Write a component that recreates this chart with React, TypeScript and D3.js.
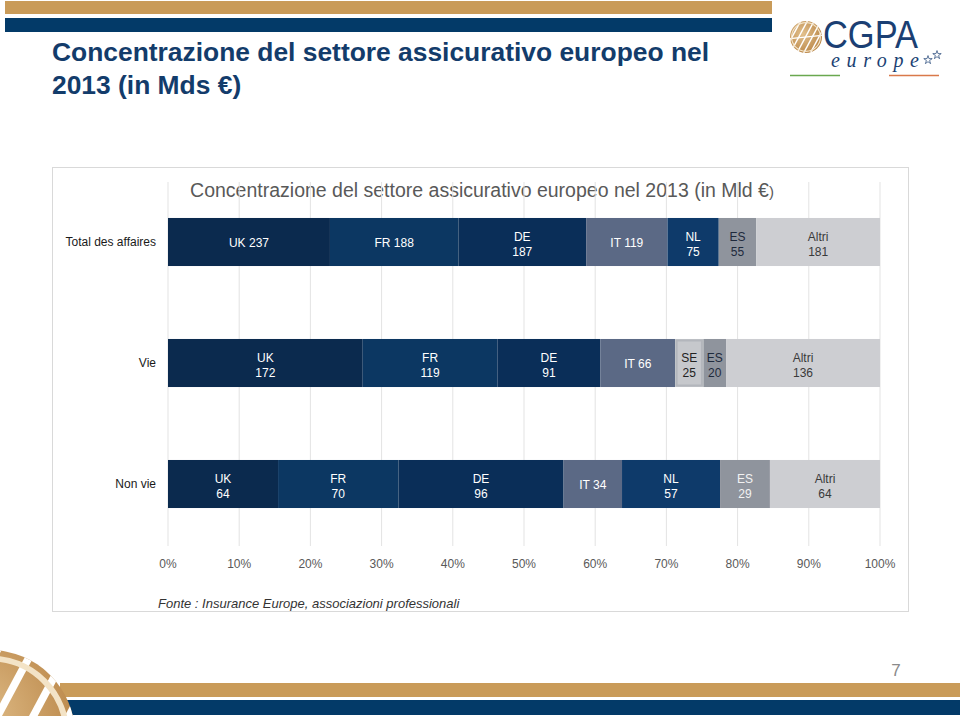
import React from "react";
import * as d3 from "d3";

const rowNames = ["Total des affaires", "Vie", "Non vie"];

const totalLabels = ["UK", "FR", "DE", "IT", "NL", "ES", "Altri"];
const totalValues = [237, 188, 187, 119, 75, 55, 181];

const vieLabels = ["UK", "FR", "DE", "IT", "SE", "ES", "Altri"];
const vieValues = [172, 119, 91, 66, 25, 20, 136];

const nonVieLabels = ["UK", "FR", "DE", "IT", "NL", "ES", "Altri"];
const nonVieValues = [64, 70, 96, 34, 57, 29, 64];

// which segment labels are on one line
const totalInline = [true, true, false, true, false, false, false];
const vieInline = [false, false, false, true, false, false, false];
const nonVieInline = [false, false, false, true, false, false, false];

const tickValues = [0, 0.1, 0.2, 0.3, 0.4, 0.5, 0.6, 0.7, 0.8, 0.9, 1];

const chartTitle = "Concentrazione del settore assicurativo europeo nel 2013 (in Mld €";
const pageTitle1 = "Concentrazione del settore assicurativo europeo nel";
const pageTitle2 = "2013 (in Mds €)";
const sourceNote = "Fonte : Insurance Europe, associazioni professionali";

const fills: Record<string, string> = {
  UK: "#0b2a4e",
  FR: "#0c3762",
  DE: "#0a2e58",
  IT: "#5b6985",
  NL: "#0e3a6a",
  SE: "#c6c8cc",
  ES: "#8f949d",
  Altri: "#cdced2",
};

const FONT = "'Liberation Sans', Arial, sans-serif";

type Row = { name: string; labels: string[]; values: number[]; inline: boolean[]; darkES: boolean };

const rows: Row[] = [
  { name: rowNames[0], labels: totalLabels, values: totalValues, inline: totalInline, darkES: true },
  { name: rowNames[1], labels: vieLabels, values: vieValues, inline: vieInline, darkES: true },
  { name: rowNames[2], labels: nonVieLabels, values: nonVieValues, inline: nonVieInline, darkES: false },
];

function Globe({ cx, cy, r, id }: { cx: number; cy: number; r: number; id: string }) {
  const stripes = d3.range(-4, 5).map((i) => i * r * 0.42);
  return (
    <g>
      <defs>
        <clipPath id={id}>
          <circle cx={cx} cy={cy} r={r} />
        </clipPath>
        <radialGradient id={id + "g"} cx="40%" cy="40%" r="70%">
          <stop offset="0%" stopColor="#e2c08c" />
          <stop offset="100%" stopColor="#b78243" />
        </radialGradient>
      </defs>
      <circle cx={cx} cy={cy} r={r} fill={`url(#${id}g)`} />
      <g clipPath={`url(#${id})`} stroke="#fff" strokeWidth={r * 0.09}>
        {stripes.map((s, i) => (
          <line key={i} x1={cx - r * 1.2 + s} y1={cy + r * 1.4} x2={cx + r * 0.3 + s} y2={cy - r * 1.4} />
        ))}
        <line x1={cx - r} y1={cy + r * 0.1} x2={cx + r} y2={cy - r * 0.1} />
        <circle cx={cx} cy={cy} r={r * 0.9} fill="none" stroke="#f3e3c6" strokeWidth={r * 0.07} />
      </g>
    </g>
  );
}

export default function App() {
  const x = d3.scaleLinear().domain([0, 1]).range([168, 880]);
  const y = d3
    .scaleBand<string>()
    .domain(rowNames)
    .range([181.5, 544.5])
    .paddingInner(0.603)
    .paddingOuter(0.3015);
  const bw = y.bandwidth();

  const star = d3.symbol().type(d3.symbolStar).size(22)();

  return (
    <svg width={960} height={716} style={{ position: "absolute", left: 0, top: 0 }} fontFamily={FONT}>
      <rect width={960} height={716} fill="#fff" />
      {/* top bands */}
      <rect x={5} y={1} width={767} height={13} fill="#c99b59" />
      <rect x={5} y={18} width={767} height={14} fill="#033a68" />

      {/* page title */}
      <text x={52} y={61} fontSize={26.4} fontWeight="bold" fill="#133c6b">
        {pageTitle1}
      </text>
      <text x={52} y={94} fontSize={26.4} fontWeight="bold" fill="#133c6b">
        {pageTitle2}
      </text>

      {/* logo */}
      <Globe cx={806} cy={37} r={16} id="glb1" />
      <text x={823} y={48} fontSize={38} fill="#1b3f73" textLength={95} lengthAdjust="spacingAndGlyphs">
        CGPA
      </text>
      <text
        x={831}
        y={67}
        fontSize={20}
        fontStyle="italic"
        fontFamily="'Liberation Serif', 'DejaVu Serif', serif"
        fill="#1b3f73"
        textLength={88}
        lengthAdjust="spacing"
      >
        europe
      </text>
      <path d={star} transform="translate(928,60)" fill="none" stroke="#1b3f73" strokeWidth={0.7} />
      <path d={star} transform="translate(937,55)" fill="none" stroke="#1b3f73" strokeWidth={0.7} />
      <line x1={790} x2={840} y1={75.5} y2={75.5} stroke="#6aa84f" strokeWidth={1.5} />
      <line x1={889} x2={939} y1={75.5} y2={75.5} stroke="#d9794a" strokeWidth={1.5} />

      {/* chart panel */}
      <rect x={52.5} y={167.5} width={856} height={444} fill="#fff" stroke="#d9d9d9" strokeWidth={1} />
      <text x={482} y={197} fontSize={19.5} fill="#595959" textAnchor="middle">
        {chartTitle}
        <tspan fontSize={15}>)</tspan>
      </text>

      {/* gridlines */}
      {tickValues.map((t) => (
        <line key={t} x1={x(t)} x2={x(t)} y1={182} y2={546} stroke="#e3e3e3" strokeWidth={1} />
      ))}

      {/* bars */}
      {rows.map((row) => {
        const total = d3.sum(row.values);
        const cum = [0, ...d3.cumsum(row.values)];
        const y0 = y(row.name) as number;
        const cy = y0 + bw / 2;
        return (
          <g key={row.name}>
            <text x={156} y={cy + 4} fontSize={12} fill="#1a1a1a" textAnchor="end">
              {row.name}
            </text>
            {row.values.map((v, i) => {
              const lab = row.labels[i];
              const xa = x(cum[i] / total);
              const xb = x(cum[i + 1] / total);
              const mid = (xa + xb) / 2;
              let tc = "#ffffff";
              if (lab === "Altri") tc = "#3a3a3a";
              if (lab === "SE") tc = "#222";
              if (lab === "ES") tc = row.darkES ? "#1e2a3c" : "#f2f2f2";
              return (
                <g key={lab}>
                  <rect x={xa} y={y0} width={xb - xa} height={bw} fill={fills[lab]} />
                  {lab === "SE" && (
                    <rect
                      x={xa + 1.5}
                      y={y0 + 1.5}
                      width={xb - xa - 3}
                      height={bw - 3}
                      fill="none"
                      stroke="#b3b6bc"
                      strokeWidth={2}
                    />
                  )}
                  {row.inline[i] ? (
                    <text x={mid} y={cy + 4.5} fontSize={12} fill={tc} textAnchor="middle">
                      {lab} {v}
                    </text>
                  ) : (
                    <text x={mid} y={cy - 1} fontSize={12} fill={tc} textAnchor="middle">
                      <tspan x={mid}>{lab}</tspan>
                      <tspan x={mid} dy={15}>
                        {v}
                      </tspan>
                    </text>
                  )}
                </g>
              );
            })}
          </g>
        );
      })}

      {/* axis labels */}
      {tickValues.map((t) => (
        <text key={t} x={x(t)} y={568} fontSize={12} fill="#595959" textAnchor="middle">
          {d3.format(".0%")(t)}
        </text>
      ))}

      <text x={158} y={608} fontSize={13} fontStyle="italic" fill="#333">
        {sourceNote}
      </text>

      {/* footer */}
      <text x={896} y={676} fontSize={17} fill="#8a8a8a" textAnchor="middle">
        7
      </text>
      <rect x={60} y={683} width={900} height={14} fill="#c99b59" />
      <rect x={60} y={700} width={900} height={15} fill="#033a68" />
      <Globe cx={-10} cy={735} r={85} id="glb2" />
    </svg>
  );
}
